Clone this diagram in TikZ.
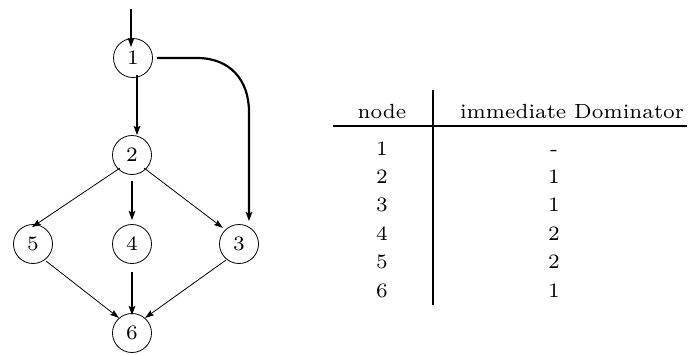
\documentclass[tikz,border=0pt]{standalone}
\usetikzlibrary{arrows.meta}
\font\tabfont="[lmroman7-regular]" at 20.5pt
\begin{document}
\begin{tikzpicture}[x=1pt,y=-1pt,
  vtx/.style={circle,draw,line width=0.8pt,minimum size=39pt,inner sep=0pt,font=\tabfont},
  thin/.style={line width=0.8pt,-{Stealth[length=9pt,width=6pt,inset=1.5pt]}},
  thick/.style={line width=2.2pt,-{Stealth[length=9pt,width=6.5pt,inset=1.5pt]}},
  cell/.style={font=\tabfont,inner sep=0pt,anchor=base},
  rule/.style={line width=1.6pt}]
\useasboundingbox (0,0) rectangle (696,354);
% graph
\node[vtx] (n1) at (133,58) {1};
\node[vtx] (n2) at (132,155) {2};
\node[vtx] (n5) at (33,244) {5};
\node[vtx] (n4) at (132,244) {4};
\node[vtx] (n3) at (239,244) {3};
\node[vtx] (n6) at (132,333) {6};
\coordinate (entry) at (131,9);
\draw[thick] (entry) -- ([xshift=-2pt,yshift=-9pt]n1.north);
\draw[thick] ([xshift=4pt,yshift=2.5pt]n1.south) -- ([xshift=5pt]n2.north);
\draw[thick] ([xshift=4pt]n1.east) -- (197,58) .. controls (230,58) and (249,80) .. (249,112) -- ([xshift=10pt,yshift=3pt]n3.north);
\draw[thin] ([shift={(2pt,1pt)}]n2.south west) -- ([shift={(-1pt,-3pt)}]n5.north);
\draw[thick] ([yshift=-6pt]n2.south) -- ([yshift=4pt]n4.north);
\draw[thin] ([shift={(-2pt,1pt)}]n2.south east) -- ([shift={(-2pt,2pt)}]n3.north west);
\draw[thin] ([shift={(-1pt,-3pt)}]n5.south east) -- ([shift={(1pt,1pt)}]n6.north west);
\draw[thick] ([yshift=-8pt]n4.south) -- ([yshift=-2pt]n6.north);
\draw[thin] ([shift={(1pt,-2pt)}]n3.south west) -- ([shift={(-1pt,1pt)}]n6.north east);
% table
\coordinate (vt) at (433,90);
\coordinate (vb) at (433,305);
\coordinate (hl) at (333,126);
\coordinate (hr) at (687,126);
\draw[rule] (vt) -- (vb);
\draw[rule] (hl) -- (hr);
\node[cell] (h1) at (382,118) {node};
\node[cell] (h2) at (572,118) {immediate Dominator};
\foreach \i/\a/\b in {1/1/-,2/2/1,3/3/1,4/4/2,5/5/2,6/6/1}{
  \node[cell] (a\i) at (382,{155+(\i-1)*28.4}) {\a};
  \node[cell] (b\i) at (554,{155+(\i-1)*28.4}) {\b};
}
\end{tikzpicture}
\end{document}
